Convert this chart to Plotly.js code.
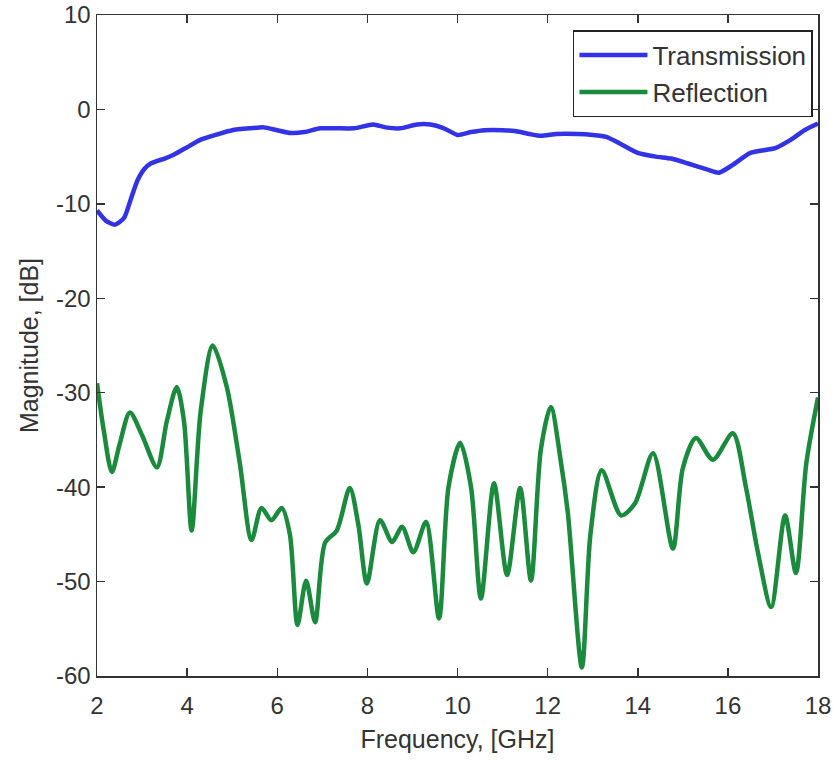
<!DOCTYPE html>
<html>
<head>
<meta charset="utf-8">
<script src="https://cdn.plot.ly/plotly-3.0.1.min.js"></script>
<style>html,body{margin:0;padding:0;background:#fff;}#chart{width:836px;height:763px;}</style>
</head>
<body>
<div id="chart"></div>
<script>
const transFreq = [2.0,2.2,2.4,2.6,2.75,2.9,3.05,3.2,3.5,3.7,4.0,4.3,4.7,5.0,5.4,5.7,6.0,6.3,6.6,6.95,7.3,7.7,8.13,8.4,8.73,9.1,9.4,9.7,10.0,10.3,10.6,11.0,11.3,11.6,11.85,12.2,12.67,13.0,13.3,13.6,14.0,14.4,14.74,15.1,15.5,15.8,16.1,16.5,17.05,17.4,17.7,18.0];
const transMag  = [-10.7,-11.8,-12.2,-11.5,-9.5,-7.5,-6.3,-5.7,-5.2,-4.8,-4.0,-3.2,-2.6,-2.2,-2.0,-1.9,-2.2,-2.5,-2.4,-2.0,-2.0,-2.0,-1.6,-1.9,-2.0,-1.6,-1.6,-2.0,-2.7,-2.4,-2.2,-2.2,-2.3,-2.6,-2.8,-2.6,-2.6,-2.7,-2.9,-3.6,-4.6,-5.0,-5.2,-5.7,-6.3,-6.7,-5.9,-4.6,-4.1,-3.2,-2.2,-1.5];

const reflFreq = [2.0,2.15,2.33,2.5,2.73,3.0,3.33,3.55,3.77,3.93,4.1,4.3,4.57,4.88,5.17,5.43,5.65,5.87,6.1,6.28,6.45,6.64,6.84,7.06,7.32,7.61,7.8,7.99,8.28,8.55,8.77,9.02,9.3,9.59,9.8,10.06,10.3,10.52,10.81,11.1,11.39,11.63,11.85,12.07,12.3,12.45,12.76,12.95,13.2,13.63,13.94,14.34,14.78,15.0,15.29,15.67,16.11,16.4,16.67,16.96,17.27,17.51,17.74,18.0];
const reflMag  = [-29.0,-34.0,-38.4,-35.5,-32.1,-34.5,-37.9,-33.0,-29.4,-33.0,-44.6,-32.0,-25.0,-29.4,-37.5,-45.6,-42.2,-43.5,-42.2,-45.0,-54.6,-49.9,-54.3,-45.9,-44.6,-40.1,-44.0,-50.2,-43.5,-45.8,-44.2,-46.9,-43.7,-53.9,-40.0,-35.3,-40.0,-51.8,-39.6,-49.3,-40.1,-49.9,-36.0,-31.5,-37.5,-42.8,-59.1,-45.0,-38.2,-43.0,-41.7,-36.4,-46.5,-38.0,-34.8,-37.1,-34.3,-40.0,-47.0,-52.7,-43.0,-49.1,-37.5,-30.5];

const xTicks = [2,4,6,8,10,12,14,16,18];
const yTicks = [-60,-50,-40,-30,-20,-10,0,10];

const font = 'Liberation Sans, Arial, sans-serif';
const traces = [
  {x: transFreq, y: transMag, name: 'Transmission', type: 'scatter', mode: 'lines',
   line: {color: '#3232e6', width: 4.5, shape: 'spline', smoothing: 0.6}},
  {x: reflFreq, y: reflMag, name: 'Reflection', type: 'scatter', mode: 'lines',
   line: {color: '#1a8a3c', width: 4.5, shape: 'spline', smoothing: 0.8}}
];
const axisCommon = {
  showline: true, linecolor: '#333', linewidth: 1.5, mirror: 'ticks',
  ticks: 'inside', ticklen: 8, tickwidth: 1.5, tickcolor: '#333',
  showgrid: false, zeroline: false,
  tickfont: {family: font, size: 24, color: '#333'}
};
const layout = {
  width: 836, height: 763,
  margin: {l: 97, r: 18, t: 15, b: 87},
  paper_bgcolor: '#fff', plot_bgcolor: '#fff',
  showlegend: true,
  legend: {x: 0.993, y: 0.977, xanchor: 'right', yanchor: 'top',
           bordercolor: '#222', borderwidth: 1.5, bgcolor: '#fff',
           font: {family: font, size: 26, color: '#333'}, itemwidth: 68, tracegroupgap: 0},
  xaxis: Object.assign({}, axisCommon, {range: [2, 18], tickvals: xTicks, ticktext: xTicks.map(String),
    ticklabelstandoff: 8,
    title: {text: 'Frequency, [GHz]', font: {family: font, size: 25, color: '#333'}, standoff: 12}}),
  yaxis: Object.assign({}, axisCommon, {range: [-60, 10], tickvals: yTicks, ticktext: yTicks.map(String),
    title: {text: 'Magnitude, [dB]', font: {family: font, size: 25, color: '#333'}, standoff: 10}})
};
Plotly.newPlot('chart', traces, layout, {displayModeBar: false, staticPlot: true});
</script>
</body>
</html>
